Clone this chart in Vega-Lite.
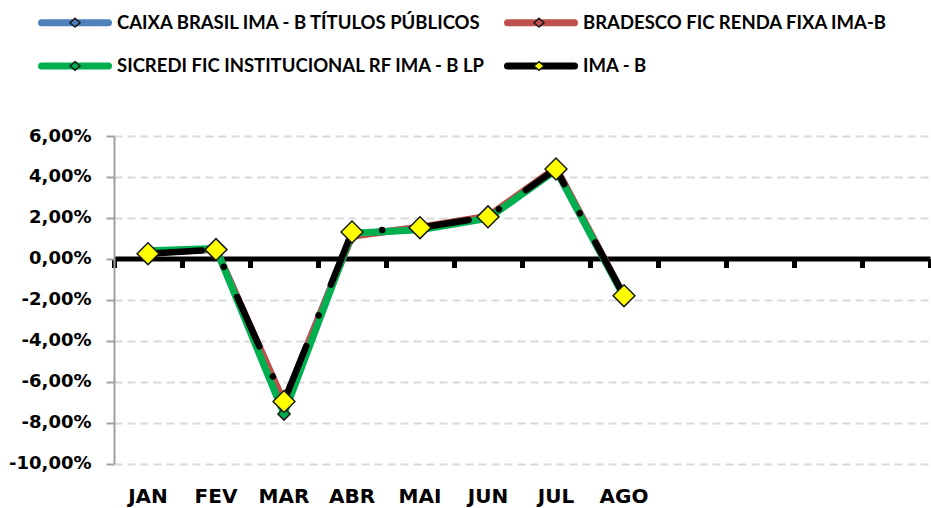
{
  "$schema": "https://vega.github.io/schema/vega-lite/v6.json",
  "width": 816,
  "height": 327.5,
  "autosize": {"type": "none"},
  "padding": {"left": 114, "top": 136, "right": 1, "bottom": 44.5},
  "background": "white",
  "config": {"view": {"stroke": null}},
  "data": {
    "values": [
      {"mes": "JAN", "serie": "CAIXA BRASIL IMA - B TÍTULOS PÚBLICOS", "valor": 0.30},
      {"mes": "FEV", "serie": "CAIXA BRASIL IMA - B TÍTULOS PÚBLICOS", "valor": 0.47},
      {"mes": "MAR", "serie": "CAIXA BRASIL IMA - B TÍTULOS PÚBLICOS", "valor": -7.05},
      {"mes": "ABR", "serie": "CAIXA BRASIL IMA - B TÍTULOS PÚBLICOS", "valor": 1.18},
      {"mes": "MAI", "serie": "CAIXA BRASIL IMA - B TÍTULOS PÚBLICOS", "valor": 1.50},
      {"mes": "JUN", "serie": "CAIXA BRASIL IMA - B TÍTULOS PÚBLICOS", "valor": 2.02},
      {"mes": "JUL", "serie": "CAIXA BRASIL IMA - B TÍTULOS PÚBLICOS", "valor": 4.38},
      {"mes": "AGO", "serie": "CAIXA BRASIL IMA - B TÍTULOS PÚBLICOS", "valor": -1.82},
      {"mes": "JAN", "serie": "BRADESCO FIC RENDA FIXA IMA-B", "valor": 0.30},
      {"mes": "FEV", "serie": "BRADESCO FIC RENDA FIXA IMA-B", "valor": 0.47},
      {"mes": "MAR", "serie": "BRADESCO FIC RENDA FIXA IMA-B", "valor": -7.00},
      {"mes": "ABR", "serie": "BRADESCO FIC RENDA FIXA IMA-B", "valor": 1.10},
      {"mes": "MAI", "serie": "BRADESCO FIC RENDA FIXA IMA-B", "valor": 1.55},
      {"mes": "JUN", "serie": "BRADESCO FIC RENDA FIXA IMA-B", "valor": 2.08},
      {"mes": "JUL", "serie": "BRADESCO FIC RENDA FIXA IMA-B", "valor": 4.45},
      {"mes": "AGO", "serie": "BRADESCO FIC RENDA FIXA IMA-B", "valor": -1.80},
      {"mes": "JAN", "serie": "SICREDI FIC INSTITUCIONAL RF IMA - B LP", "valor": 0.40},
      {"mes": "FEV", "serie": "SICREDI FIC INSTITUCIONAL RF IMA - B LP", "valor": 0.50},
      {"mes": "MAR", "serie": "SICREDI FIC INSTITUCIONAL RF IMA - B LP", "valor": -7.58},
      {"mes": "ABR", "serie": "SICREDI FIC INSTITUCIONAL RF IMA - B LP", "valor": 1.25},
      {"mes": "MAI", "serie": "SICREDI FIC INSTITUCIONAL RF IMA - B LP", "valor": 1.42},
      {"mes": "JUN", "serie": "SICREDI FIC INSTITUCIONAL RF IMA - B LP", "valor": 1.98},
      {"mes": "JUL", "serie": "SICREDI FIC INSTITUCIONAL RF IMA - B LP", "valor": 4.33},
      {"mes": "AGO", "serie": "SICREDI FIC INSTITUCIONAL RF IMA - B LP", "valor": -1.85},
      {"mes": "JAN", "serie": "IMA - B", "valor": 0.25},
      {"mes": "FEV", "serie": "IMA - B", "valor": 0.45},
      {"mes": "MAR", "serie": "IMA - B", "valor": -6.97},
      {"mes": "ABR", "serie": "IMA - B", "valor": 1.31},
      {"mes": "MAI", "serie": "IMA - B", "valor": 1.52},
      {"mes": "JUN", "serie": "IMA - B", "valor": 2.05},
      {"mes": "JUL", "serie": "IMA - B", "valor": 4.39},
      {"mes": "AGO", "serie": "IMA - B", "valor": -1.80}
    ]
  },
  "transform": [{"calculate": "datum.serie", "as": "marcador"}],
  "resolve": {"axis": {"x": "independent"}},
  "layer": [
    {
      "transform": [{"filter": "datum.serie != 'IMA - B'"}],
      "mark": {"type": "line", "strokeWidth": 7, "strokeCap": "butt", "strokeJoin": "round"},
      "encoding": {
        "x": {
          "field": "mes", "type": "nominal",
          "scale": {"type": "band", "domain": ["JAN","FEV","MAR","ABR","MAI","JUN","JUL","AGO","SET","OUT","NOV","DEZ"], "paddingInner": 0, "paddingOuter": 0},
          "axis": {
            "orient": "bottom", "title": null, "grid": false, "domain": false, "ticks": false,
            "labelAngle": 0, "labelFont": "DejaVu Sans", "labelFontSize": 20, "labelFontWeight": "bold",
            "labelColor": "black", "labelPadding": 23,
            "labelExpr": "indexof(['SET','OUT','NOV','DEZ'], datum.value) >= 0 ? '' : datum.value"
          }
        },
        "y": {
          "field": "valor", "type": "quantitative",
          "scale": {"domain": [-10, 6], "nice": false, "zero": false},
          "axis": {
            "title": null, "values": [-10, -8, -6, -4, -2, 0, 2, 4, 6],
            "labelExpr": "(datum.value < 0 ? '-' : '') + replace(format(abs(datum.value), '.2f'), '.', ',') + '%'",
            "labelFont": "DejaVu Sans", "labelFontSize": 18, "labelFontWeight": "bold", "labelColor": "black",
            "labelPadding": 15, "domainColor": "#A0A0A0", "domainWidth": 2, "tickColor": "#A0A0A0",
            "tickWidth": 2, "tickSize": 8, "grid": true, "gridColor": "#D9D9D9", "gridDash": [8, 5], "gridWidth": 2
          }
        },
        "color": {
          "field": "serie", "type": "nominal",
          "scale": {
            "domain": ["CAIXA BRASIL IMA - B TÍTULOS PÚBLICOS", "BRADESCO FIC RENDA FIXA IMA-B", "SICREDI FIC INSTITUCIONAL RF IMA - B LP", "IMA - B"],
            "range": ["#4F81BD", "#C0504D", "#00B050", "#000000"]
          },
          "legend": {
            "orient": "none", "direction": "horizontal", "legendX": -76, "legendY": -123.3, "columns": 2, "title": null,
            "symbolType": "stroke", "symbolSize": 4489, "symbolStrokeWidth": 7, "symbolOpacity": 1,
            "labelFont": "Lato", "labelFontSize": 18.5, "labelFontWeight": "bold", "labelColor": "black",
            "labelOffset": 5, "labelLimit": 800, "columnPadding": 18, "rowPadding": 23.3, "clipHeight": 20, "padding": 0,
            "encode": {"symbols": {"update": {"strokeCap": {"value": "round"}}}}
          }
        }
      }
    },
    {
      "mark": {"type": "point", "shape": "diamond", "filled": true, "size": 150, "stroke": "#1a1a1a", "strokeWidth": 1.5, "opacity": 1},
      "encoding": {
        "x": {"field": "mes", "type": "nominal", "axis": null},
        "y": {"field": "valor", "type": "quantitative"},
        "fill": {
          "field": "marcador", "type": "nominal",
          "sort": ["CAIXA BRASIL IMA - B TÍTULOS PÚBLICOS", "BRADESCO FIC RENDA FIXA IMA-B", "SICREDI FIC INSTITUCIONAL RF IMA - B LP", "IMA - B"],
          "scale": {"range": ["#4F81BD", "#C0504D", "#00B050", "#FFFF00"]},
          "legend": {
            "orient": "none", "direction": "horizontal", "legendX": -73.5, "legendY": -123.3, "columns": 2, "title": null,
            "symbolType": "M0,-0.13L0.15,0L0,0.13L-0.15,0Z", "symbolSize": 4489, "symbolStrokeWidth": 1.5,
            "symbolStrokeColor": "#1a1a1a", "symbolOpacity": 1,
            "labelExpr": "''", "labelFontSize": 18.5, "labelOffset": 0,
            "columnPadding": 395, "rowPadding": 23.3, "clipHeight": 20, "padding": 0
          }
        }
      }
    },
    {
      "transform": [{"filter": "datum.serie == 'IMA - B'"}],
      "mark": {"type": "line", "strokeWidth": 6.5, "strokeCap": "round", "strokeJoin": "round", "strokeDash": [54, 33, 0.1, 33]},
      "encoding": {
        "x": {
          "field": "mes", "type": "nominal",
          "axis": {
            "orient": "bottom", "title": null, "labels": false, "grid": false, "offset": -205,
            "domain": true, "domainColor": "black", "domainWidth": 5, "domainCap": "butt",
            "ticks": true, "tickColor": "black", "tickWidth": 5, "tickSize": 9, "tickBand": "extent"
          }
        },
        "y": {"field": "valor", "type": "quantitative"},
        "color": {"field": "serie", "type": "nominal"}
      }
    },
    {
      "transform": [{"filter": "datum.serie == 'IMA - B'"}],
      "mark": {"type": "point", "shape": "diamond", "filled": true, "size": 480, "fill": "#FFFF00", "stroke": "#1a1a1a", "strokeWidth": 1.5, "opacity": 1},
      "encoding": {
        "x": {"field": "mes", "type": "nominal", "axis": null},
        "y": {"field": "valor", "type": "quantitative"}
      }
    }
  ]
}
